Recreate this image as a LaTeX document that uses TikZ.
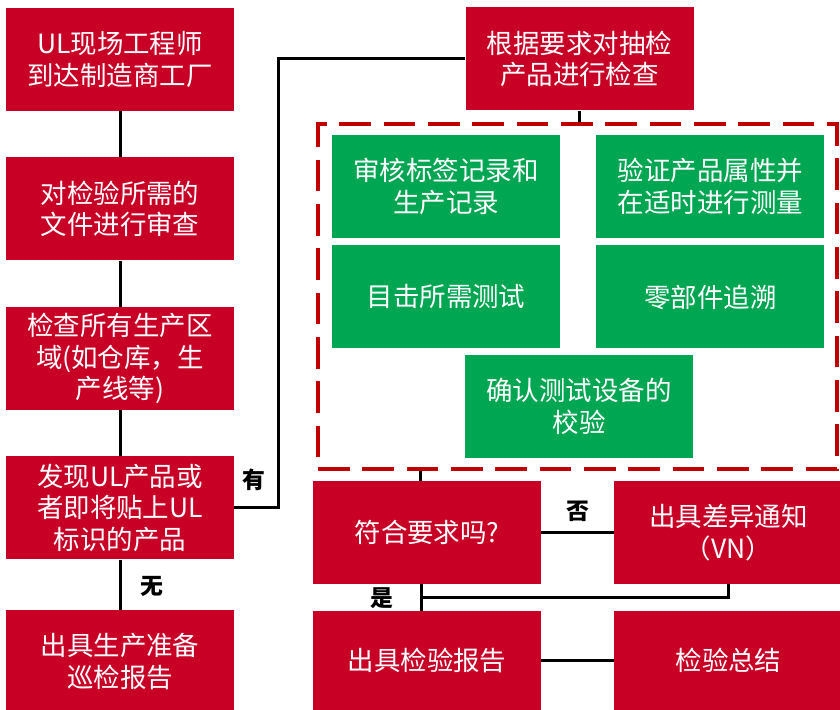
\documentclass[tikz,border=0pt]{standalone}
\usepackage{fontspec}
\setmainfont{Noto Sans CJK SC}
\usetikzlibrary{positioning}
\usetikzlibrary{calc}
\definecolor{ulred}{RGB}{200,0,38}
\definecolor{ulgreen}{RGB}{0,166,81}
\definecolor{framered}{RGB}{192,0,0}

\begin{document}
\begin{tikzpicture}[x=0.03cm, y=-0.03cm,
                redsquarednode/.style={rectangle, fill=ulred, text=white, align=center, minimum width=6.84cm, minimum height=3.09cm, inner sep=0pt, font=\fontsize{22.6}{26.8}\selectfont},
                greensquarednode/.style={redsquarednode, fill=ulgreen},
                answer/.style={font=\bfseries\fontsize{19.5}{21}\selectfont},
                conn/.style={line width=0.09cm},
                ]
                \useasboundingbox (0,0) rectangle (840,710);

                % left column
                \node[redsquarednode] (site) at (120,59.5) {UL现场工程师\\到达制造商工厂};
                \node[redsquarednode, below=1.38cm of site] (docs) {对检验所需的\\文件进行审查};
                \node[redsquarednode, below=1.38cm of docs] (area) {检查所有生产区\\域(如仓库，生\\产线等)};
                \node[redsquarednode, below=1.38cm of area] (found) {发现UL产品或\\者即将贴上UL\\标识的产品};
                \node[redsquarednode, below=1.5cm of found] (prep) {出具生产准备\\巡检报告};

                % inspection
                \node[redsquarednode] (sample) at (579.5,59) {根据要求对抽检\\产品进行检查};
                \node[draw=framered, line width=0.1cm, dash pattern=on 0.95cm off 0.38cm, minimum width=15.57cm, minimum height=10.35cm, inner sep=0pt] (frame) at (577.5,296.5) {};
                \node[greensquarednode] (labels) at (446,186.5) {审核标签记录和\\生产记录};
                \node[greensquarednode, right=1.08cm of labels] (verify) {验证产品属性并\\在适时进行测量};
                \node[greensquarednode, below=0.21cm of labels] (witness) {目击所需测试};
                \node[greensquarednode, below=0.21cm of verify] (parts) {零部件追溯};
                \node[greensquarednode] (calib) at (579,406.5) {确认测试设备的\\校验};

                % result
                \node[redsquarednode] (check) at (427,532.5) {符合要求吗?};
                \node[redsquarednode, right=2.19cm of check] (vn) {出具差异通知\\（VN）};
                \node[redsquarednode, minimum height=2.97cm] (report) at (427,660.5) {出具检验报告};
                \node[redsquarednode, minimum height=2.97cm, right=2.19cm of report] (summary) {检验总结};

                \draw[conn] (site.south) -- (docs.north);
                \draw[conn] (docs.south) -- (area.north);
                \draw[conn] (area.south) -- (found.north);
                \draw[conn] (found.south) -- (prep.north);
                \draw[conn] (found.east) -- ++(44,0) |- (sample.west);
                \draw[conn] (sample.south) -- (sample.south |- frame.north);
                \draw[conn] ([xshift=-0.21cm]check.north) -- ([xshift=-0.21cm]check.north |- frame.south);
                \draw[conn] (check.east) -- (vn.west);
                \draw[conn] ([xshift=-0.18cm]check.south) -- ([xshift=-0.18cm]report.north);
                \draw[conn] (vn.south) |- ($(check.south)!0.5!(report.north)+(-6,0)$);
                \draw[conn] (report.east) -- (summary.west);

                \node[answer] (has) at (254,480) {有};
                \node[answer] (none) at (152,586) {无};
                \node[answer] (no) at (578,511) {否};
                \node[answer] (yes) at (382,598) {是};
            \end{tikzpicture}
\end{document}
